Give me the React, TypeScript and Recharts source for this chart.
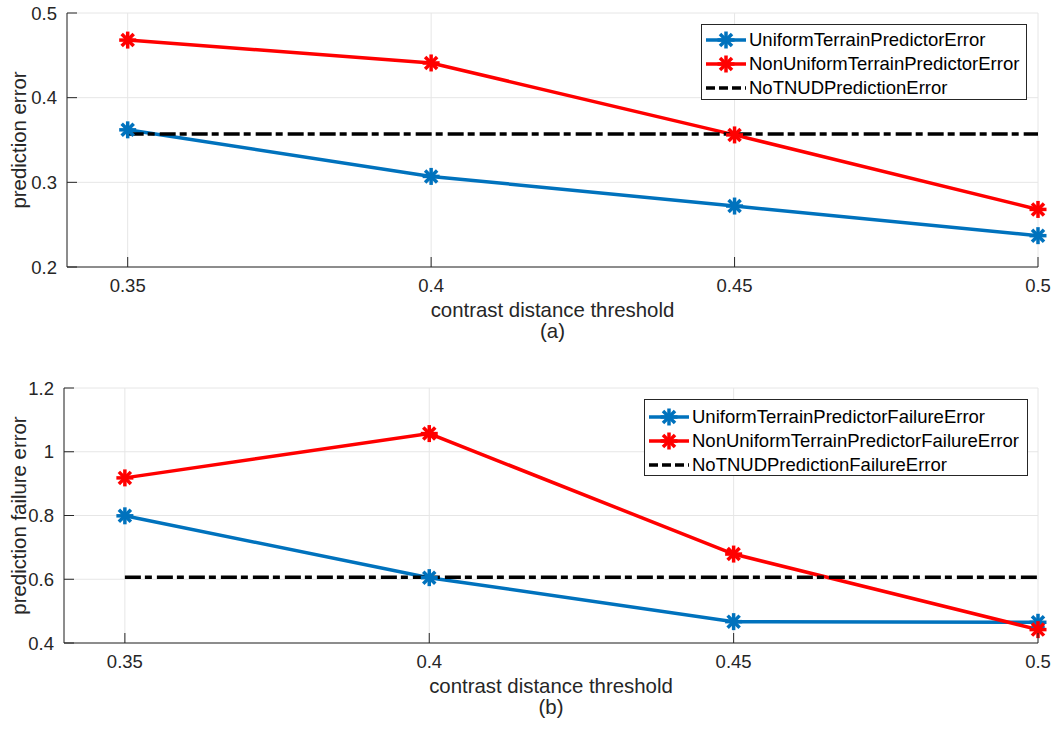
import { CartesianGrid, Legend, Line, LineChart, XAxis, YAxis } from "recharts";

const thresholds = [0.35, 0.4, 0.45, 0.5];

// (a) prediction error
const uniformError = [0.362, 0.307, 0.272, 0.237];
const nonUniformError = [0.468, 0.441, 0.356, 0.268];
const noTnudError = [0.357, 0.357, 0.357, 0.357];

// (b) prediction failure error
const uniformFailure = [0.799, 0.605, 0.467, 0.465];
const nonUniformFailure = [0.918, 1.057, 0.679, 0.442];
const noTnudFailure = [0.606, 0.606, 0.606, 0.606];

const xTicks = [0.35, 0.4, 0.45, 0.5];
const topYTicks = [0.2, 0.3, 0.4, 0.5];
const bottomYTicks = [0.4, 0.6, 0.8, 1, 1.2];

const topNames = [
  "UniformTerrainPredictorError",
  "NonUniformTerrainPredictorError",
  "NoTNUDPredictionError",
];
const bottomNames = [
  "UniformTerrainPredictorFailureError",
  "NonUniformTerrainPredictorFailureError",
  "NoTNUDPredictionFailureError",
];

const BLUE = "#0072BD";
const RED = "#FF0000";
const BLACK = "#000000";
const AXIS = "#262626";
const FONT = "'Liberation Sans', Arial, Helvetica, sans-serif";
const DASH = "16 4 7 5";
const TICK_LEN = 10;
const X_GAP = 12;
const Y_GAP = 10;

function Asterisk({ cx, cy, color, r = 8.5 }: { cx: number; cy: number; color: string; r?: number }) {
  const d = r * Math.SQRT1_2;
  return (
    <g stroke={color} strokeWidth={3.5}>
      <line x1={cx - r} y1={cy} x2={cx + r} y2={cy} />
      <line x1={cx} y1={cy - r} x2={cx} y2={cy + r} />
      <line x1={cx - d} y1={cy - d} x2={cx + d} y2={cy + d} />
      <line x1={cx - d} y1={cy + d} x2={cx + d} y2={cy - d} />
    </g>
  );
}

// MATLAB-style inward ticks: the label plus a short mark pointing into the plot
const bottomTick = (t: any) => (
  <g>
    <line x1={t.x} y1={t.y - X_GAP} x2={t.x} y2={t.y - X_GAP - TICK_LEN} stroke={AXIS} />
    <text x={t.x} y={t.y} dy="0.71em" textAnchor="middle" fill={AXIS} fontSize={18.5} fontFamily={FONT}>
      {t.payload.value}
    </text>
  </g>
);
const leftTick = (t: any) => (
  <g>
    <line x1={t.x + Y_GAP} y1={t.y} x2={t.x + Y_GAP + TICK_LEN} y2={t.y} stroke={AXIS} />
    <text x={t.x} y={t.y} dy="0.355em" textAnchor="end" fill={AXIS} fontSize={18.5} fontFamily={FONT}>
      {t.payload.value}
    </text>
  </g>
);
const topTick = (t: any) => <line x1={t.x} y1={t.y} x2={t.x} y2={t.y + TICK_LEN} stroke={AXIS} />;
const rightTick = (t: any) => <line x1={t.x} y1={t.y} x2={t.x - TICK_LEN} y2={t.y} stroke={AXIS} />;

function LegendBox({ names, padTop }: { names: string[]; padTop: number }) {
  const colors = [BLUE, RED, BLACK];
  return (
    <div
      style={{
        boxSizing: "border-box",
        width: "100%",
        height: "100%",
        border: `1px solid ${AXIS}`,
        background: "#fff",
        paddingTop: padTop,
        fontFamily: FONT,
        fontSize: 18.5,
        color: "#000",
      }}
    >
      {names.map((name, i) => (
        <div key={name} style={{ display: "flex", alignItems: "center", height: 24 }}>
          <svg width={46} height={24} style={{ flex: "none" }}>
            <line
              x1={4}
              y1={12}
              x2={44}
              y2={12}
              stroke={colors[i]}
              strokeWidth={3.5}
              strokeDasharray={i === 2 ? "9 4" : undefined}
            />
            {i < 2 && <Asterisk cx={24} cy={12} color={colors[i]} />}
          </svg>
          <span style={{ marginLeft: 1, whiteSpace: "nowrap", lineHeight: "24px" }}>{name}</span>
        </div>
      ))}
    </div>
  );
}

interface PanelProps {
  blue: number[];
  red: number[];
  black: number[];
  yDomain: [number, number];
  yTicks: number[];
  yLabel: string;
  caption: string;
  names: string[];
  height: number;
  marginTop: number;
  yAxisWidth: number;
  xAxisHeight: number;
  legend: { left: number; top: number; width: number; height: number; padTop: number };
}

function Panel(p: PanelProps) {
  const data = thresholds.map((x, i) => ({ x, blue: p.blue[i], red: p.red[i], black: p.black[i] }));
  return (
    <LineChart
      width={1054}
      height={p.height}
      data={data}
      margin={{ top: p.marginTop, right: 16, bottom: 0, left: 0 }}
      style={{ fontFamily: FONT }}
    >
      <CartesianGrid stroke="#e6e6e6" strokeWidth={1} />
      <XAxis
        dataKey="x"
        type="number"
        domain={[0.34, 0.5]}
        ticks={xTicks}
        height={p.xAxisHeight}
        stroke={AXIS}
        tick={bottomTick}
        tickLine={false}
        tickSize={0}
        tickMargin={X_GAP}
        label={(props: any) => {
          const vb = props.viewBox || {};
          const cx = vb.x + vb.width / 2;
          return (
            <g fontFamily={FONT} fontSize={20.4} fill={AXIS} textAnchor="middle">
              <text x={cx} y={vb.y + 49.5}>contrast distance threshold</text>
              <text x={cx} y={vb.y + 71}>{p.caption}</text>
            </g>
          );
        }}
      />
      <XAxis
        xAxisId="top"
        orientation="top"
        dataKey="x"
        type="number"
        domain={[0.34, 0.5]}
        ticks={xTicks}
        height={0}
        stroke={AXIS}
        tick={topTick}
        tickLine={false}
        tickSize={0}
        tickMargin={0}
      />
      <YAxis
        type="number"
        domain={p.yDomain}
        ticks={p.yTicks}
        width={p.yAxisWidth}
        stroke={AXIS}
        tick={leftTick}
        tickLine={false}
        tickSize={0}
        tickMargin={Y_GAP}
        label={(props: any) => {
          const vb = props.viewBox || {};
          const cy = vb.y + vb.height / 2;
          const x = 25.5;
          return (
            <text
              x={x}
              y={cy}
              transform={`rotate(-90, ${x}, ${cy})`}
              textAnchor="middle"
              fontFamily={FONT}
              fontSize={20.4}
              fill={AXIS}
            >
              {p.yLabel}
            </text>
          );
        }}
      />
      <YAxis
        yAxisId="right"
        orientation="right"
        type="number"
        domain={p.yDomain}
        ticks={p.yTicks}
        width={0}
        stroke={AXIS}
        tick={rightTick}
        tickLine={false}
        tickSize={0}
        tickMargin={0}
      />
      <Line
        type="linear"
        dataKey="blue"
        stroke={BLUE}
        strokeWidth={3.5}
        isAnimationActive={false}
        dot={(d: any) => <Asterisk key={`b${d.index}`} cx={d.cx} cy={d.cy} color={BLUE} />}
      />
      <Line
        type="linear"
        dataKey="red"
        stroke={RED}
        strokeWidth={3.5}
        isAnimationActive={false}
        dot={(d: any) => <Asterisk key={`r${d.index}`} cx={d.cx} cy={d.cy} color={RED} />}
      />
      <Line
        type="linear"
        dataKey="black"
        stroke={BLACK}
        strokeWidth={3.5}
        strokeDasharray={DASH}
        dot={false}
        isAnimationActive={false}
      />
      <Legend
        verticalAlign="middle"
        align="center"
        content={() => <LegendBox names={p.names} padTop={p.legend.padTop} />}
        wrapperStyle={{
          left: p.legend.left,
          top: p.legend.top,
          width: p.legend.width,
          height: p.legend.height,
          margin: 0,
        }}
      />
    </LineChart>
  );
}

export default function App() {
  return (
    <div style={{ position: "absolute", left: 0, top: 0, width: 1054, height: 731, background: "#fff" }}>
      <div style={{ position: "absolute", left: 0, top: 0 }}>
        <Panel
          blue={uniformError}
          red={nonUniformError}
          black={noTnudError}
          yDomain={[0.2, 0.5]}
          yTicks={topYTicks}
          yLabel="prediction error"
          caption="(a)"
          names={topNames}
          height={350}
          marginTop={13}
          yAxisWidth={67}
          xAxisHeight={83}
          legend={{ left: 701, top: 24, width: 326, height: 76, padTop: 3 }}
        />
      </div>
      <div style={{ position: "absolute", left: 0, top: 350 }}>
        <Panel
          blue={uniformFailure}
          red={nonUniformFailure}
          black={noTnudFailure}
          yDomain={[0.4, 1.2]}
          yTicks={bottomYTicks}
          yLabel="prediction failure error"
          caption="(b)"
          names={bottomNames}
          height={381}
          marginTop={38}
          yAxisWidth={64}
          xAxisHeight={88}
          legend={{ left: 644, top: 49, width: 384, height: 77, padTop: 5 }}
        />
      </div>
    </div>
  );
}
